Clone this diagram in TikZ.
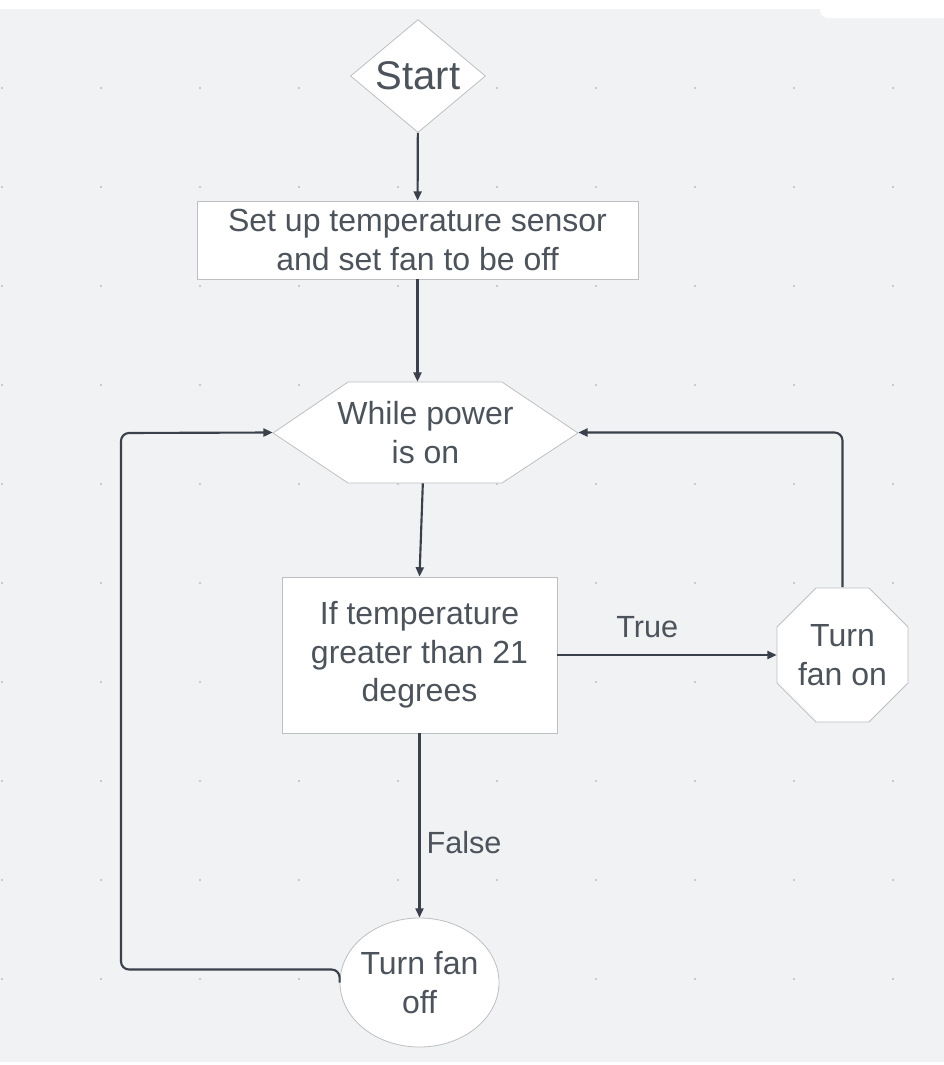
\documentclass[tikz,border=0pt]{standalone}
\usepackage{fontspec}
\setmainfont{Liberation Sans}
\usetikzlibrary{shapes.geometric, arrows.meta}

\definecolor{canvas}{HTML}{F1F2F4}
\definecolor{griddot}{HTML}{BABDC3}
\definecolor{outline}{HTML}{BDBFC2}
\definecolor{ink}{HTML}{3A414A}
\definecolor{textgrey}{HTML}{4D535B}

\begin{document}
\begin{tikzpicture}[x=0.75pt,y=-0.75pt,
  >={Triangle[length=7pt,width=6pt]},
  outlined/.style={fill=white,draw=outline,line width=0.6pt},
  txt/.style={text=textgrey,font=\fontsize{24}{29}\selectfont,align=center,inner sep=0pt},
  lbl/.style={text=textgrey,font=\fontsize{23}{28}\selectfont,inner sep=0pt},
  flow/.style={->,draw=ink,line width=1.6pt,rounded corners=6pt}]
\useasboundingbox (0,0) rectangle (944,1065);
\fill[white] (0,0) rectangle (944,1065);
\fill[canvas] (0,9) rectangle (944,1062);
\fill[white,rounded corners=6pt] (820,-20) rectangle (964,18);
\foreach \i in {0,...,9}
  \foreach \j in {0,...,9}
    \fill[griddot] (2+99*\i,88+99*\j) circle (0.8pt);

% hexagon and octagon outlines
\filldraw[outlined] (273,433) -- (348,382) -- (502,382) -- (578,433) -- (502,483) -- (348,483) -- cycle;
\filldraw[outlined] (777,627) -- (816,588) -- (869,588) -- (908,627) -- (908,683) -- (869,722) -- (816,722) -- (777,683) -- cycle;

\node[txt,outlined,diamond,aspect=1.3,minimum width=101.25pt,minimum height=84.75pt] (Start) at (418,76) {\fontsize{30}{36}\selectfont Start};
\node[txt,outlined,minimum width=330.75pt,minimum height=58.5pt] (Setup) at (417.5,240) {Set up temperature sensor\\and set fan to be off};
\node[txt,minimum width=228.75pt,minimum height=75.75pt] (Loop) at (425.5,432.5) {While power\\is on};
\node[txt,outlined,minimum width=206.25pt,minimum height=117pt] (Check) at (419.5,655) {If temperature\\greater than 21\\degrees};
\node[txt,minimum width=98.25pt,minimum height=101.25pt] (FanOn) at (842.5,655) {Turn\\fan on};
\node[txt,outlined,ellipse,inner sep=-15pt,minimum width=119.25pt,minimum height=96.75pt] (FanOff) at (419.5,982.5) {Turn fan\\off};
\coordinate (LoopCorner) at (121,433);

\draw[flow] (Start) -- (Setup);
\draw[flow] (Setup.south) -- (Setup.south |- Loop.north);
\draw[flow] ([xshift=-2pt]Loop.south) -- (Check.north);
\draw[flow] (Check.east) -- node[lbl,above=12pt,pos=0.41] {True} (FanOn.west);
\draw[flow] (Check.south) -- node[lbl,right=4.5pt,pos=0.595] {False} (FanOff.north);
\draw[flow] (FanOn.north) |- (Loop.east);
\draw[flow] (FanOff.west) -- ++(0,-13) -| (LoopCorner) -- (Loop.west);
\end{tikzpicture}
\end{document}
